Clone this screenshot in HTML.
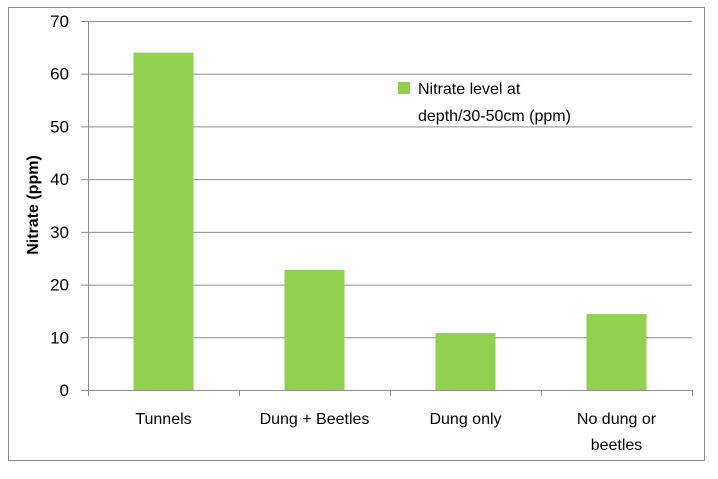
<!DOCTYPE html>
<html><head><meta charset="utf-8"><style>
body{margin:0;background:#fff;}
svg text{font-family:"Liberation Sans",Calibri,sans-serif;fill:#000;}
</style></head><body>
<svg width="718" height="474">
<rect x="8.5" y="7.5" width="696" height="453" fill="#fff" stroke="#8c8c8c"/>
<g id="grid"></g><g id="bars"></g><g id="axes"></g>
<text transform="translate(38,205) rotate(-90)" text-anchor="middle" font-size="16" font-weight="bold">Nitrate (ppm)</text>
<rect x="398" y="82" width="12" height="12" fill="#92D050"/>
<text x="418" y="94" font-size="16">Nitrate level at</text>
<text x="418" y="121" font-size="16">depth/30-50cm (ppm)</text>
</svg>
<script>
const categories=[["Tunnels"],["Dung + Beetles"],["Dung only"],["No dung or","beetles"]];
const values=[64,22.8,10.8,14.4];
const yTicks=[0,10,20,30,40,50,60,70];
const ns="http://www.w3.org/2000/svg";
const L=88,R=692,B=390,T=21,max=70;
const y=v=>B-(v/max)*(B-T);
const cw=(R-L)/categories.length;
const x=i=>L+cw*(i+0.5);
function mk(t,a,p){const e=document.createElementNS(ns,t);for(const k in a)e.setAttribute(k,a[k]);document.getElementById(p).appendChild(e);return e;}
yTicks.forEach(v=>{
 const g=mk("line",{x1:81,x2:R,y1:y(v)+0.5,y2:y(v)+0.5,stroke:v===0?"#8c8c8c":"#8c8c8c"},"grid");
 
 
 const t=mk("text",{x:69,y:y(v)+6,"text-anchor":"end","font-size":"17"},"axes");
 t.textContent=v;
 
 
});
const ya=mk("line",{x1:L+0.5,x2:L+0.5,y1:T,y2:B,stroke:"#8c8c8c"},"axes");


for(let i=0;i<=categories.length;i++){
 const tk=mk("line",{x1:L+cw*i+0.5,x2:L+cw*i+0.5,y1:B,y2:B+6,stroke:"#8c8c8c"},"axes");
 
 
}
values.forEach((v,i)=>{
 const r=mk("rect",{x:x(i)-30,y:y(v),width:60,height:B-y(v),fill:"#92D050"},"bars");
 
 
 categories[i].forEach((ln,j)=>{
  const t=mk("text",{x:x(i),y:424+j*26,"text-anchor":"middle","font-size":"16"},"axes");
  t.textContent=ln;
  
  
 });
});
</script>
</body></html>
